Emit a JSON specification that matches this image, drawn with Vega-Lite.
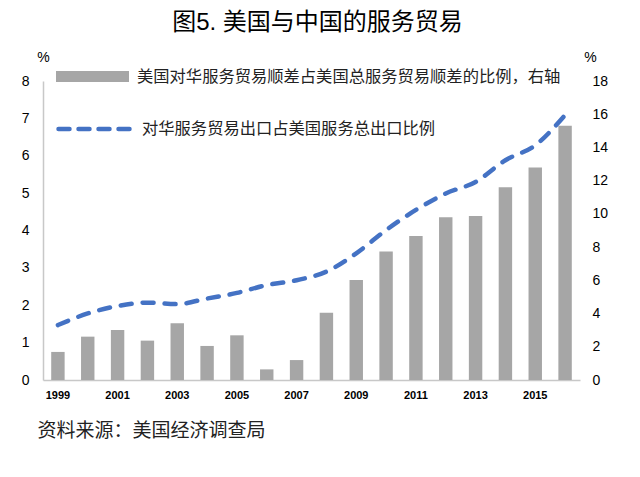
{
  "$schema": "https://vega.github.io/schema/vega-lite/v6.json",
  "width": 537,
  "height": 299,
  "autosize": {"type": "none"},
  "padding": {"left": 43, "top": 81, "right": 60, "bottom": 97},
  "background": "white",
  "title": {
    "text": "图5. 美国与中国的服务贸易",
    "fontSize": 24,
    "fontWeight": "normal",
    "font": "Liberation Sans, Noto Sans CJK SC",
    "color": "#000000",
    "anchor": "middle",
    "dx": 6,
    "offset": 5
  },
  "config": {
    "view": {"stroke": null},
    "font": "Liberation Sans, Noto Sans CJK SC",
    "axis": {"grid": false, "ticks": false, "labelColor": "#000000", "titleColor": "#000000"}
  },
  "data": {
    "values": [
      {"year": 1999, "surplus": 1.69, "export": 1.47},
      {"year": 2000, "surplus": 2.61, "export": 1.78},
      {"year": 2001, "surplus": 3.01, "export": 1.98},
      {"year": 2002, "surplus": 2.37, "export": 2.07},
      {"year": 2003, "surplus": 3.41, "export": 2.03},
      {"year": 2004, "surplus": 2.05, "export": 2.18},
      {"year": 2005, "surplus": 2.69, "export": 2.33},
      {"year": 2006, "surplus": 0.64, "export": 2.54},
      {"year": 2007, "surplus": 1.2, "export": 2.67},
      {"year": 2008, "surplus": 4.05, "export": 2.9},
      {"year": 2009, "surplus": 6.02, "export": 3.39},
      {"year": 2010, "surplus": 7.73, "export": 4.01},
      {"year": 2011, "surplus": 8.67, "export": 4.55},
      {"year": 2012, "surplus": 9.8, "export": 4.99},
      {"year": 2013, "surplus": 9.88, "export": 5.3},
      {"year": 2014, "surplus": 11.6, "export": 5.88},
      {"year": 2015, "surplus": 12.79, "export": 6.28},
      {"year": 2016, "surplus": 15.3, "export": 7.09}
    ]
  },
  "encoding": {
    "x": {
      "field": "year",
      "type": "ordinal",
      "scale": {"paddingInner": 0.55, "paddingOuter": 0.275},
      "axis": {
        "values": [1999, 2001, 2003, 2005, 2007, 2009, 2011, 2013, 2015],
        "labelAngle": 0,
        "labelFontSize": 11,
        "labelFontWeight": "bold",
        "labelPadding": 9,
        "domainColor": "#c8c8c8",
        "domainWidth": 1.5,
        "title": "资料来源：美国经济调查局",
        "titleFontSize": 19,
        "titleFontWeight": "normal",
        "titleColor": "#222222",
        "titleAnchor": "start",
        "titleAlign": "left",
        "titleX": -6,
        "titleY": 41
      }
    }
  },
  "layer": [
    {
      "mark": {"type": "bar", "color": "#a6a6a6"},
      "encoding": {
        "y": {
          "field": "surplus",
          "type": "quantitative",
          "scale": {"domain": [0, 18]},
          "axis": {
            "orient": "right",
            "values": [0, 2, 4, 6, 8, 10, 12, 14, 16, 18],
            "domain": false,
            "labelFontSize": 14,
            "labelPadding": 12,
            "title": "%",
            "titleAngle": 0,
            "titleFontSize": 14,
            "titleFontWeight": "normal",
            "titleX": 10,
            "titleY": -17
          }
        },
        "fill": {
          "datum": "美国对华服务贸易顺差占美国总服务贸易顺差的比例，右轴",
          "scale": {"range": ["#a6a6a6"]},
          "legend": {
            "orient": "none",
            "legendX": 13,
            "legendY": -41,
            "title": null,
            "symbolType": "M-1,-0.15H1V0.15H-1Z",
            "symbolSize": 5329,
            "symbolStrokeWidth": 0,
            "labelFontSize": 16.3,
            "labelColor": "#222222",
            "labelLimit": 600,
            "labelOffset": 8
          }
        }
      }
    },
    {
      "mark": {"type": "line", "strokeDash": [11, 11], "strokeCap": "round", "strokeWidth": 4.5, "interpolate": "monotone", "color": "#4472c4"},
      "encoding": {
        "y": {
          "field": "export",
          "type": "quantitative",
          "scale": {"domain": [0, 8]},
          "axis": {
            "orient": "left",
            "values": [0, 1, 2, 3, 4, 5, 6, 7, 8],
            "domainColor": "#c8c8c8",
            "domainWidth": 1.5,
            "labelFontSize": 14,
            "labelPadding": 14,
            "title": "%",
            "titleAngle": 0,
            "titleFontSize": 14,
            "titleFontWeight": "normal",
            "titleX": 0,
            "titleY": -17
          }
        },
        "stroke": {
          "datum": "对华服务贸易出口占美国服务总出口比例",
          "scale": {"range": ["#4472c4"]},
          "legend": {
            "orient": "none",
            "legendX": 13,
            "legendY": 9,
            "title": null,
            "symbolType": "stroke",
            "symbolSize": 5329,
            "symbolStrokeWidth": 4.5,
            "symbolDash": [11, 9],
            "labelFontSize": 16.3,
            "labelColor": "#222222",
            "labelLimit": 600,
            "labelOffset": 8,
            "encode": {"symbols": {"update": {"strokeCap": {"value": "round"}}}}
          }
        }
      }
    }
  ],
  "resolve": {"scale": {"y": "independent", "fill": "independent", "stroke": "independent"}}
}
